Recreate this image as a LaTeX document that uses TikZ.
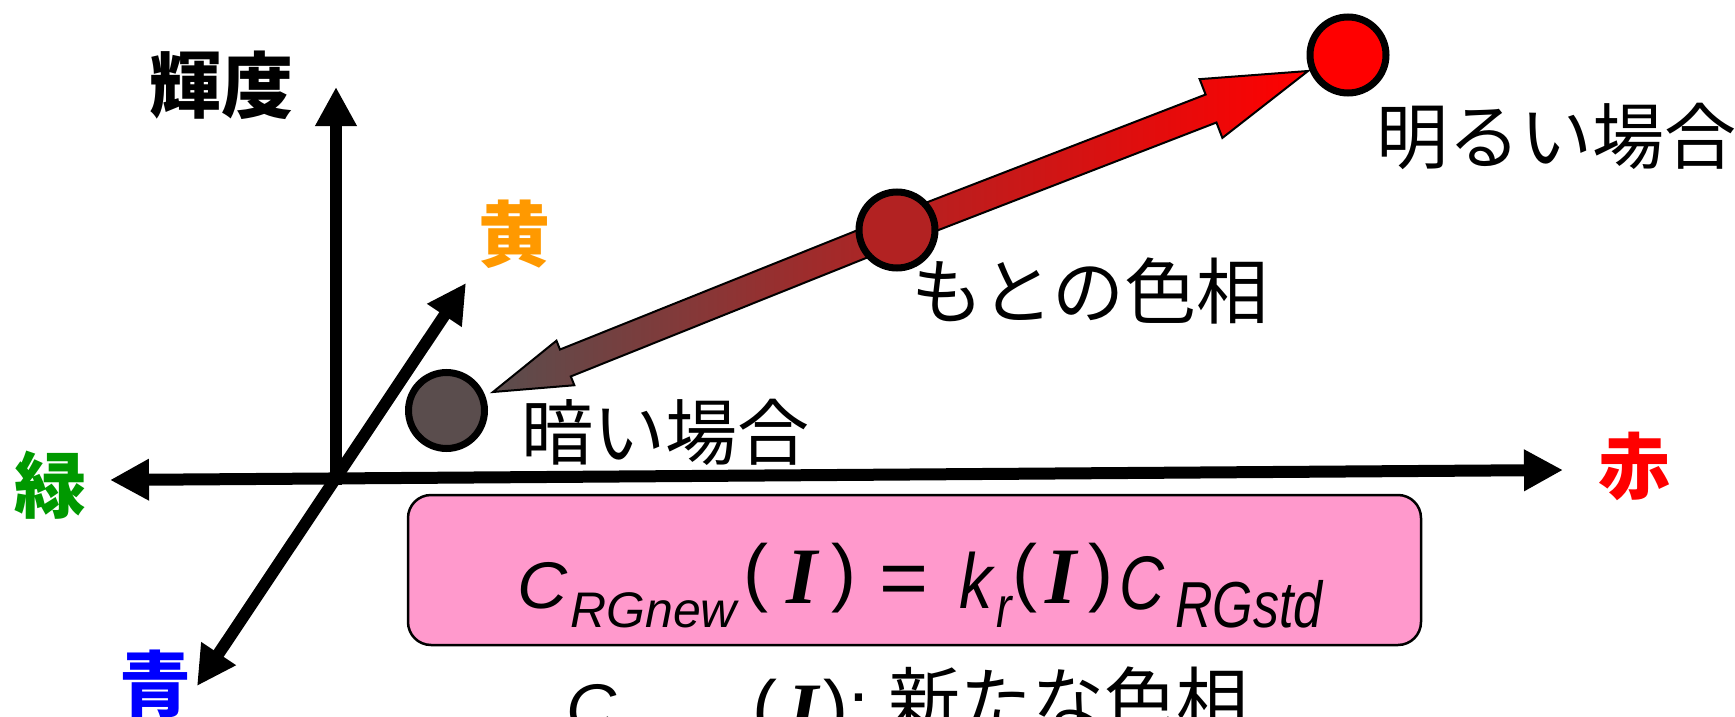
\documentclass[tikz,border=0pt]{standalone}
\usepackage{fontspec}
\usepackage{graphicx}
\newfontfamily\jp{Noto Sans CJK JP}
\newfontfamily\lsans{Liberation Sans}
\newfontfamily\lserif{Liberation Serif}
\usetikzlibrary{arrows.meta,calc}
\definecolor{darkc}{RGB}{90,77,77}
\definecolor{midc}{RGB}{178,34,34}
\definecolor{boxpink}{RGB}{255,153,204}
\definecolor{yel}{RGB}{255,153,0}
\definecolor{grn}{RGB}{0,153,0}
\newcommand\itsz[1]{\fontsize{#1}{#1}\selectfont\lsans\mdseries\itshape}
\newcommand\upsz[1]{\fontsize{#1}{#1}\selectfont\lsans\mdseries\upshape}
\newcommand\bisz[1]{\fontsize{#1}{#1}\selectfont\lserif\bfseries\itshape}
\begin{document}
\begin{tikzpicture}[x=1pt,y=-1pt,
  tri/.tip={Triangle[length=39pt,width=39pt]},
  axisone/.style={line width=12pt,-tri},
  axistwo/.style={line width=12pt,tri-tri},
  dot/.style={circle,draw=black,line width=7pt,minimum size=76pt,inner sep=0pt},
  lab/.style={font=\fontsize{72}{80}\selectfont\jp},
  boldlab/.style={font=\fontsize{72}{80}\selectfont\jp\bfseries},
  blockarrow/.style={draw=black,line width=2pt,line join=miter},
  ftok/.style={anchor=base west,inner sep=0pt}
]
\useasboundingbox (0,0) rectangle (1735,717);
\clip (0,0) rectangle (1735,717);

% axes
\coordinate (O) at (336,485);
\coordinate (Ltip) at (110,480);
\coordinate (Rtip) at (1563,470);
\coordinate (Ttip) at (336,87);
\coordinate (Ytip) at (466,283);
\coordinate (Btip) at (197,686);
\draw[axistwo] (Ltip) -- (Rtip);
\draw[axisone] (O) -- (Ttip);
\draw[axistwo] (Btip) -- (Ytip);

% hue arrows
\coordinate (M) at (897,230);
\coordinate (A) at (493,392);
\coordinate (B) at (1308,71);
\coordinate (uh) at ($(B)!104pt!(M)$);
\coordinate (lh) at ($(A)!78pt!(M)$);
\draw[blockarrow,left color=darkc,right color=midc]
  ($(M)!14.5pt!90:(A)$) -- ($(lh)!14.5pt!90:(A)$) -- ($(lh)!24pt!90:(A)$) -- (A)
  -- ($(lh)!24pt!-90:(A)$) -- ($(lh)!14.5pt!-90:(A)$) -- ($(M)!14.5pt!-90:(A)$) -- cycle;
\draw[blockarrow,left color=midc,right color=red]
  ($(M)!15pt!90:(B)$) -- ($(uh)!15pt!90:(B)$) -- ($(uh)!31.5pt!90:(B)$) -- (B)
  -- ($(uh)!31.5pt!-90:(B)$) -- ($(uh)!15pt!-90:(B)$) -- ($(M)!15pt!-90:(B)$) -- cycle;

% circles
\node[dot,fill=darkc] (darkdot) at (446.5,410.5) {};
\node[dot,fill=midc] (middot) at (M) {};
\node[dot,fill=red] (brightdot) at (1348,55) {};

% labels
\node[boldlab] (lum) at (221,85) {輝度};
\node[boldlab,text=yel] (nYellow) at (514,234) {黄};
\node[boldlab,text=grn] (nGreen) at (50,485) {緑};
\node[boldlab,text=blue] (nBlue) at (155,684) {青};
\node[boldlab,text=red] (nRed) at (1634,466) {赤};
\node[lab] (brightlab) at (1556.5,136) {明るい場合};
\node[lab] (origlab) at (1090,291) {もとの色相};
\node[lab] (darklab) at (665,432) {暗い場合};

% formula box
\node[draw=black,line width=2.5pt,fill=boxpink,rounded corners=23pt,
      minimum width=1013pt,minimum height=150pt,inner sep=0pt] (fbox) at (914.5,570) {};
\node[ftok] (f1) at (517,608) {\scalebox{1.05}[1]{\itsz{66}C}};
\node[ftok] (f2) at (570,627) {\itsz{50}RGnew};
\node[ftok] (f3) at (743,597) {\upsz{75}(};
\node[ftok] (f4) at (786,603) {\bisz{80}I};
\node[ftok] (f5) at (831,597) {\upsz{75})};
\node[ftok] (f6) at (879,605) {\scalebox{1.05}[1]{\upsz{80}=}};
\node[ftok] (f7) at (959,608) {\scalebox{0.85}[1]{\itsz{78}k}};
\node[ftok] (f8) at (996,627) {\scalebox{0.8}[1]{\itsz{58}r}};
\node[ftok] (f9) at (1012,597) {\upsz{75}(};
\node[ftok] (f10) at (1045,603) {\bisz{80}I};
\node[ftok] (f11) at (1088,597) {\upsz{75})};
\node[ftok] (f12) at (1119,609) {\scalebox{0.82}[1]{\itsz{76}C}};
\node[ftok] (f13) at (1175,627) {\scalebox{0.8}[1]{\itsz{65}RGstd}};

% explanation line (cut by the lower edge)
\node[ftok] (e1) at (566,730) {\scalebox{1.05}[1]{\itsz{66}C}};
\node[ftok] (e2) at (616,752) {\itsz{40}RGnew};
\node[ftok] (e3) at (752,733) {\upsz{75}(};
\node[ftok] (e4) at (787,738) {\bisz{80}I};
\node[ftok] (e5) at (823,733) {\upsz{75})};
\node[ftok] (e6) at (848,733) {\upsz{75}:};
\node[ftok] (e7) at (888,727) {\fontsize{72}{80}\selectfont\jp 新たな色相};
\end{tikzpicture}
\end{document}
